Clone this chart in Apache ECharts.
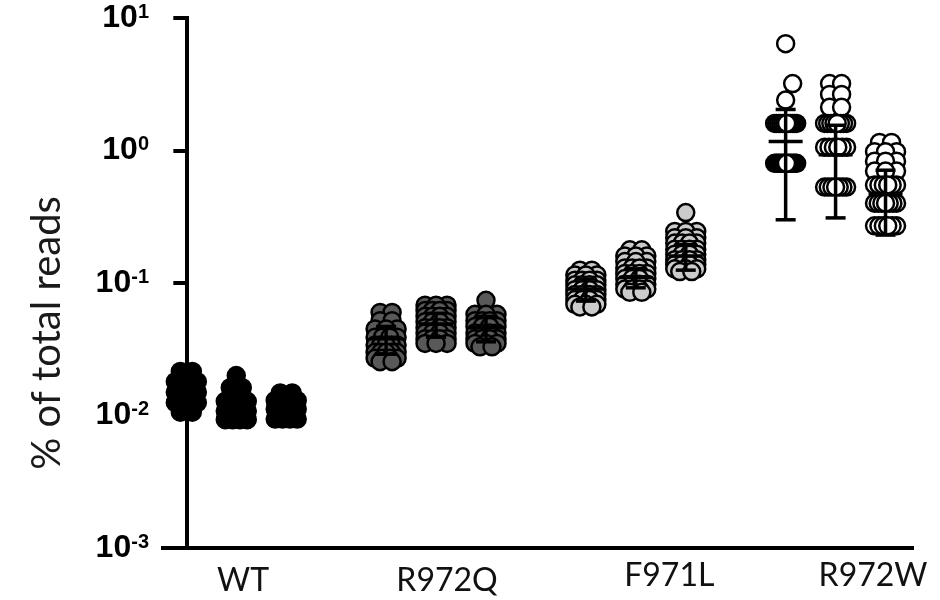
<!DOCTYPE html>
<html>
<head>
<meta charset="utf-8">
<script src="https://cdn.jsdelivr.net/npm/echarts@6/dist/echarts.min.js"></script>
<style>
  html, body { margin: 0; padding: 0; background: #ffffff; }
  #chart { width: 940px; height: 600px; }
</style>
</head>
<body>
<div id="chart"></div>
<script>
// ---- data: % of total reads per replicate, three columns per genotype ----
const groups = ['WT', 'R972Q', 'F971L', 'R972W'];

const wt1 = [0.0215, 0.0215, 0.018, 0.018, 0.018, 0.015, 0.015, 0.015, 0.0125, 0.0125, 0.0125, 0.0106, 0.0106];
const wt2 = [0.0200, 0.0162, 0.0162, 0.0128, 0.0128, 0.0128, 0.0108, 0.0108, 0.0108, 0.0093, 0.0093, 0.0093, 0.0093];
const wt3 = [0.0148, 0.0148, 0.0130, 0.0130, 0.0130, 0.0112, 0.0112, 0.0112, 0.0094, 0.0094, 0.0094, 0.0094];

const r972q1 = [0.060, 0.060, 0.052, 0.052, 0.045, 0.045, 0.045, 0.039, 0.039, 0.039, 0.039,
  0.034, 0.034, 0.034, 0.034, 0.034, 0.030, 0.030, 0.030, 0.030, 0.030, 0.027, 0.027, 0.027, 0.027, 0.0255, 0.0255];
const r972q2 = [0.068, 0.068, 0.068, 0.062, 0.062, 0.062, 0.062, 0.056, 0.056, 0.056, 0.056,
  0.051, 0.051, 0.051, 0.051, 0.046, 0.046, 0.046, 0.046, 0.042, 0.042, 0.042, 0.042,
  0.038, 0.038, 0.038, 0.038, 0.035, 0.035, 0.035];
const r972q3 = [0.074, 0.058, 0.058, 0.058, 0.052, 0.052, 0.052, 0.052, 0.047, 0.047, 0.047, 0.047,
  0.042, 0.042, 0.042, 0.042, 0.038, 0.038, 0.038, 0.038, 0.035, 0.035, 0.035, 0.033, 0.033];

const f971l1 = [0.125, 0.125, 0.115, 0.115, 0.115, 0.105, 0.105, 0.105, 0.105, 0.097, 0.097, 0.097, 0.097,
  0.089, 0.089, 0.089, 0.089, 0.082, 0.082, 0.082, 0.082, 0.075, 0.075, 0.075, 0.075, 0.069, 0.069, 0.069, 0.066, 0.066];
const f971l2 = [0.178, 0.178, 0.160, 0.160, 0.160, 0.145, 0.145, 0.145, 0.130, 0.130, 0.130, 0.130,
  0.118, 0.118, 0.118, 0.118, 0.108, 0.108, 0.108, 0.108, 0.098, 0.098, 0.098, 0.098,
  0.090, 0.090, 0.090, 0.090, 0.085, 0.085];
const f971l3 = [0.34, 0.245, 0.245, 0.245, 0.220, 0.220, 0.220, 0.200, 0.200, 0.200, 0.200,
  0.180, 0.180, 0.180, 0.180, 0.165, 0.165, 0.165, 0.165, 0.150, 0.150, 0.150, 0.150,
  0.138, 0.138, 0.138, 0.138, 0.128, 0.128, 0.128, 0.122, 0.122];

const r972w1 = [6.4, 3.2, 2.4, 1.6, 1.6, 1.6, 1.6, 1.6, 1.6, 1.6, 1.6, 1.6, 1.6, 1.6, 1.6,
  0.8, 0.8, 0.8, 0.8, 0.8, 0.8, 0.8, 0.8, 0.8, 0.8, 0.8, 0.8, 0.8, 0.8];
const r972w2 = [3.2, 3.2, 2.65, 2.65, 2.12, 2.12, 1.6, 1.6, 1.6, 1.6, 1.6, 1.6, 1.6, 1.6,
  1.06, 1.06, 1.06, 1.06, 1.06, 1.06, 0.53, 0.53, 0.53, 0.53, 0.53, 0.53, 0.53];
const r972w3 = [1.15, 1.15, 0.98, 0.98, 0.98, 0.83, 0.83, 0.83, 0.70, 0.70, 0.70,
  0.55, 0.55, 0.55, 0.55, 0.55, 0.55, 0.40, 0.40, 0.40, 0.40, 0.40, 0.40, 0.40,
  0.27, 0.27, 0.27, 0.27, 0.27, 0.27];

// mean and SD of each column (order: WT 1-3, R972Q 1-3, F971L 1-3, R972W 1-3)
const colMeans = [0.0155, 0.0125, 0.0118, 0.038, 0.049, 0.046, 0.090, 0.110, 0.160, 1.17, 0.93, 0.47];
const colSDs   = [0.0035, 0.0030, 0.0020, 0.009, 0.010, 0.010, 0.017, 0.018, 0.035, 0.87, 0.62, 0.24];

// y-axis range (10^-3 .. 10^1)
const yMin = 0.001, yMax = 10;

// ---- layout ----
const gridBox = { left: 163, top: 18, right: 28, bottom: 52 };
const W = 940, H = 600;
const xMin = -0.467, xMax = 14.53;
const pxPerUnit = (W - gridBox.left - gridBox.right) / (xMax - xMin);
const pxPerDecade = (H - gridBox.top - gridBox.bottom) / (Math.log10(yMax) - Math.log10(yMin));
const labelPos = [1.135, 5.22, 9.67, 13.75];
const labelStyle = ['lo', 'lo', 'hi', 'hi'];

const DOT = 17;        // symbol size
const DOT_OUT = 19.5;  // outer diameter incl. border
const ROW_GAP = 12;    // max spacing of equal values in a row (px)
const ROW_SPAN = 22;   // max spread of a row (px)

const yPx = v => -Math.log10(v) * pxPerDecade;

// spreads equal values side by side, single values dodge their neighbours;
// returned in paint order: upper rows first, each row from the outside in
function swarm(values) {
  const counts = new Map();
  values.forEach(v => counts.set(v, (counts.get(v) || 0) + 1));
  const levels = [...counts.keys()].sort((a, b) => a - b);
  const rows = [];
  const placed = [];
  levels.forEach(v => {
    const n = counts.get(v), y = yPx(v);
    const row = [];
    if (n === 1) {
      let dx = 0;
      search:
      for (let k = 0; k <= 11; k++) {
        for (const s of (k ? [1, -1] : [1])) {
          const c = s * k;
          if (placed.every(p => Math.hypot(p.dx - c, p.y - y) >= DOT_OUT * 0.92)) { dx = c; break search; }
        }
      }
      row.push({ v, dx, y });
    } else {
      const gap = Math.min(ROW_GAP, ROW_SPAN / (n - 1));
      for (let i = 0; i < n; i++) row.push({ v, dx: (i - (n - 1) / 2) * gap, y });
      row.sort((a, b) => Math.abs(b.dx) - Math.abs(a.dx));
    }
    placed.push(...row);
    rows.push(row);
  });
  return rows.reverse().flat();
}

const columns = [[wt1, wt2, wt3], [r972q1, r972q2, r972q3], [f971l1, f971l2, f971l3], [r972w1, r972w2, r972w3]];
const fills = ['#000000', '#595959', '#cbcbcb', '#ffffff'];

const scatterSeries = columns.map((cols, g) => {
  const data = [];
  cols.forEach((vals, k) => {
    const base = g * 4 + k;
    swarm(vals).forEach(p => data.push([base + p.dx / pxPerUnit, p.v]));
  });
  return {
    name: groups[g],
    type: 'scatter',
    data,
    symbol: 'circle',
    symbolSize: DOT,
    itemStyle: { color: fills[g], borderColor: '#000000', borderWidth: 2.5, opacity: 1 },
    emphasis: { disabled: true },
    z: 2
  };
});

const barData = colMeans.map((m, i) => [Math.floor(i / 3) * 4 + (i % 3), m, colSDs[i]]);

const errorSeries = {
  type: 'custom',
  data: barData,
  z: 5,
  renderItem(params, api) {
    const x = api.value(0), m = api.value(1), sd = api.value(2);
    const c = api.coord([x, m]);
    const t = api.coord([x, m + sd]);
    const b = api.coord([x, m - sd]);
    const st = { stroke: '#000000', lineWidth: 3.5 };
    const cap = 10, mean = 17;
    return {
      type: 'group',
      children: [
        { type: 'line', shape: { x1: c[0], y1: t[1], x2: c[0], y2: b[1] }, style: st },
        { type: 'line', shape: { x1: c[0] - cap, y1: t[1], x2: c[0] + cap, y2: t[1] }, style: st },
        { type: 'line', shape: { x1: c[0] - cap, y1: b[1], x2: c[0] + cap, y2: b[1] }, style: st },
        { type: 'line', shape: { x1: c[0] - mean, y1: c[1], x2: c[0] + mean, y2: c[1] }, style: st }
      ]
    };
  }
};

const chart = echarts.init(document.getElementById('chart'), null, { renderer: 'canvas' });
chart.setOption({
  animation: false,
  backgroundColor: '#ffffff',
  grid: { left: gridBox.left, top: gridBox.top, right: gridBox.right, bottom: gridBox.bottom, containLabel: false },
  xAxis: {
    type: 'value',
    min: xMin,
    max: xMax,
    axisLine: { show: true, onZero: false, lineStyle: { color: '#000000', width: 4, cap: 'square' } },
    axisTick: { show: false },
    splitLine: { show: false },
    axisLabel: {
      customValues: labelPos,
      margin: 12,
      formatter: v => {
        const i = labelPos.indexOf(v);
        return i < 0 ? '' : '{' + labelStyle[i] + '|' + groups[i] + '}';
      },
      rich: {
        lo: { fontFamily: 'Lato', fontSize: 32, color: '#111111', padding: [5, 0, 0, 0] },
        hi: { fontFamily: 'Lato', fontSize: 32, color: '#111111', padding: [0, 0, 0, 0] }
      }
    }
  },
  yAxis: {
    type: 'log',
    logBase: 10,
    min: yMin,
    max: yMax,
    name: '% of total reads',
    nameLocation: 'middle',
    nameRotate: 90,
    nameGap: 96,
    nameTextStyle: { fontFamily: 'Lato', fontSize: 40, color: '#1a1a1a', padding: [0, 100, 0, 0] },
    axisLine: { show: true, lineStyle: { color: '#000000', width: 4, cap: 'square' } },
    axisTick: { show: true, length: 13, lineStyle: { color: '#000000', width: 4 } },
    splitLine: { show: false },
    minorTick: { show: false },
    axisLabel: {
      margin: 14,
      formatter: v => '{b|10}{s|' + Math.round(Math.log10(v)) + '}',
      rich: {
        b: { fontFamily: 'Liberation Sans', fontWeight: 'bold', fontSize: 32, color: '#000000' },
        s: { fontFamily: 'Liberation Sans', fontWeight: 'bold', fontSize: 20, color: '#000000', verticalAlign: 'top', padding: [0, 0, 10, 0] }
      }
    }
  },
  series: [...scatterSeries, errorSeries]
});
</script>
</body>
</html>
